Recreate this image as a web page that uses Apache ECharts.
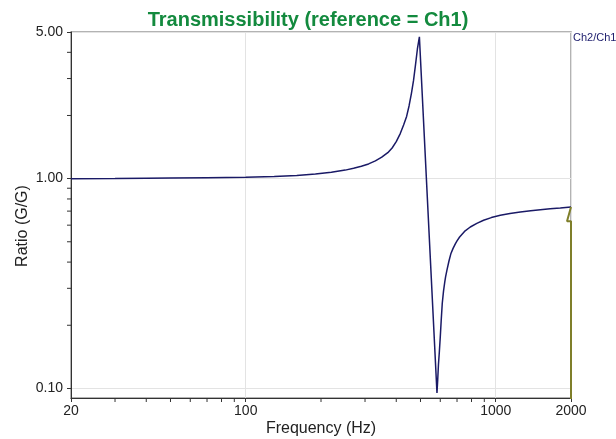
<!DOCTYPE html>
<html>
<head>
<meta charset="utf-8">
<script src="https://cdn.jsdelivr.net/npm/echarts@6/dist/echarts.min.js"></script>
<style>
html,body{margin:0;padding:0;background:#fff;}
#chart{width:616px;height:439px;}
</style>
</head>
<body>
<div id="chart"></div>
<script>
// ---- data ----
const frequency = [20, 30, 40, 50, 70, 100, 130, 160, 190, 220, 250, 270, 290, 310, 330, 350, 370, 385, 400, 415, 428, 440, 450, 460, 469, 477, 486, 495,
  582, 586, 590, 595, 600, 605, 611, 618, 625, 630, 638, 650, 662, 675, 690, 700, 717, 750, 791, 840, 894, 960, 1043, 1140, 1254, 1380, 1508, 1650, 1812, 2000];
const ratio = [1.000, 1.002, 1.004, 1.006, 1.010, 1.015, 1.024, 1.035, 1.052, 1.073, 1.098, 1.12, 1.145, 1.175, 1.215, 1.265, 1.33, 1.40, 1.50, 1.64, 1.80, 1.98, 2.22, 2.55, 2.94, 3.45, 4.15, 4.74,
  0.095, 0.11, 0.13, 0.15, 0.176, 0.21, 0.254, 0.29, 0.32, 0.34, 0.366, 0.405, 0.44, 0.465, 0.49, 0.505, 0.527, 0.56, 0.588, 0.612, 0.633, 0.652, 0.669, 0.682, 0.693, 0.703, 0.711, 0.718, 0.724, 0.733];
// short olive trace at the right edge
const endFrequency = [2000, 1928, 2000, 2000];
const endRatio = [0.733, 0.626, 0.626, 0.05];

const xTickLabels = [20, 100, 1000, 2000];
const yTickLabels = ['0.10', '1.00', '5.00'];
const xMinorTicks = [30, 40, 50, 60, 70, 80, 90, 200, 300, 400, 500, 600, 700, 800, 900];
const yMinorTicks = [0.2, 0.3, 0.4, 0.5, 0.6, 0.7, 0.8, 0.9, 2, 3, 4];

const X_MIN = 20, X_MAX = 2000, Y_MIN = 0.09, Y_MAX = 5;
const FONT = '"Liberation Sans", Arial, sans-serif';

const mainData = frequency.map((f, i) => [f, ratio[i]]);
const endData = endFrequency.map((f, i) => [f, endRatio[i]]);

function tickRender(dir) {
  return function (params, api) {
    const p = api.coord([api.value(0), api.value(1)]);
    const shape = dir === 'x'
      ? { x1: p[0], y1: p[1], x2: p[0], y2: p[1] + 4 }
      : { x1: p[0], y1: p[1], x2: p[0] - 4, y2: p[1] };
    return { type: 'line', shape: shape, style: { stroke: '#333', lineWidth: 1 } };
  };
}

const chart = echarts.init(document.getElementById('chart'), null, { renderer: 'canvas' });
chart.setOption({
  animation: false,
  backgroundColor: '#fff',
  title: {
    text: 'Transmissibility (reference = Ch1)',
    left: 'center', top: 5,
    textStyle: { color: '#138a3e', fontSize: 20, fontWeight: 'bold', fontFamily: FONT }
  },
  legend: {
    data: ['Ch2/Ch1'],
    left: 568, top: 32,
    icon: 'none', itemWidth: 0, itemHeight: 0, padding: 0,
    textStyle: { color: '#1c1c6c', fontSize: 11, fontFamily: FONT }
  },
  grid: {
    left: 71, right: 45, top: 32, bottom: 41,
    containLabel: false, outerBoundsMode: 'none',
    show: true, borderColor: '#9a9a9a', borderWidth: 1.5, backgroundColor: 'transparent'
  },
  xAxis: {
    type: 'log', logBase: 10, min: X_MIN, max: X_MAX,
    name: 'Frequency (Hz)', nameLocation: 'middle', nameGap: 23, nameMoveOverlap: false,
    nameTextStyle: { color: '#222', fontSize: 16, fontFamily: FONT },
    axisLine: { show: true, lineStyle: { color: '#333', width: 1 } },
    axisTick: { show: true, length: 4, lineStyle: { color: '#333' } },
    axisLabel: {
      color: '#222', fontSize: 14, fontFamily: FONT, margin: 6,
      showMinLabel: true, showMaxLabel: true,
      formatter: v => {
        const r = Math.round(v);
        return xTickLabels.indexOf(r) >= 0 ? String(r) : '';
      }
    },
    splitLine: { show: true, lineStyle: { color: '#e3e3e3', width: 1 } }
  },
  yAxis: {
    type: 'log', logBase: 10, min: Y_MIN, max: Y_MAX,
    name: 'Ratio (G/G)', nameLocation: 'middle', nameGap: 40, nameMoveOverlap: false,
    nameTextStyle: { color: '#222', fontSize: 16, fontFamily: FONT, padding: [0, 22, 0, 0] },
    axisLine: { show: true, lineStyle: { color: '#333', width: 1 } },
    axisTick: { show: true, length: 4, lineStyle: { color: '#333' } },
    axisLabel: {
      color: '#222', fontSize: 14, fontFamily: FONT, margin: 8,
      showMinLabel: false, showMaxLabel: true,
      formatter: v => {
        const s = Number(v).toFixed(2);
        return yTickLabels.indexOf(s) >= 0 ? s : '';
      }
    },
    splitLine: { show: true, lineStyle: { color: '#e3e3e3', width: 1 } }
  },
  series: [
    {
      name: 'Ch2/Ch1', type: 'line', data: mainData,
      showSymbol: false, symbol: 'none',
      lineStyle: { color: '#1a1a66', width: 1.5 }, itemStyle: { color: '#1a1a66' },
      z: 3
    },
    {
      name: 'end', type: 'line', data: endData,
      showSymbol: false, symbol: 'none',
      lineStyle: { color: '#7f7f2a', width: 2 },
      z: 4
    },
    {
      type: 'custom', silent: true, clip: false,
      data: xMinorTicks.map(v => [v, Y_MIN]),
      renderItem: tickRender('x'), z: 5
    },
    {
      type: 'custom', silent: true, clip: false,
      data: yMinorTicks.map(v => [X_MIN, v]),
      renderItem: tickRender('y'), z: 5
    }
  ]
});
</script>
</body>
</html>
